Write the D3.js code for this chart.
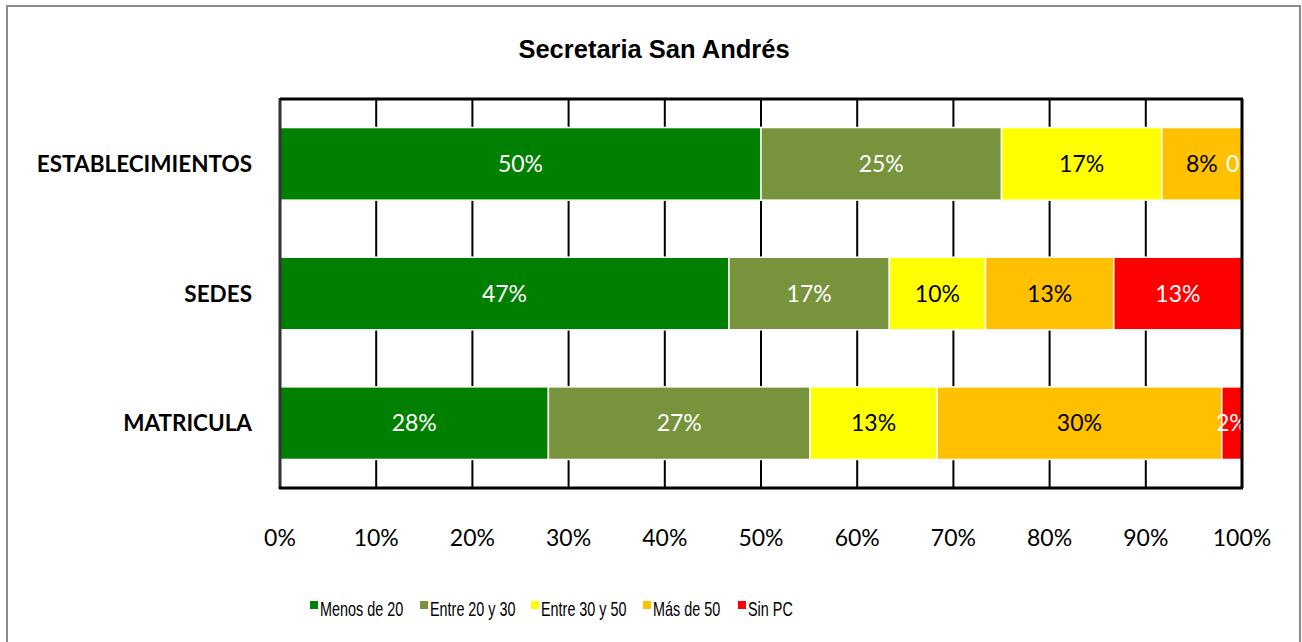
<!DOCTYPE html>
<html>
<head>
<meta charset="utf-8">
<script src="https://cdn.jsdelivr.net/npm/d3@7"></script>
<style>
  body { margin: 0; background: #fff; }
  svg { display: block; }
</style>
</head>
<body>
<svg id="chart" width="1302" height="642"></svg>
<script>
// data
const categories = ["ESTABLECIMIENTOS", "SEDES", "MATRICULA"];
const seriesNames = ["Menos de 20", "Entre 20 y 30", "Entre 30 y 50", "Más de 50", "Sin PC"];
const seriesColors = ["#008000", "#77933C", "#FFFF00", "#FFC000", "#FF0000"];
const labelColors = ["#fff", "#fff", "#000", "#000", "#fff"];
const menos20 = [50.0, 46.67, 27.9];
const entre20y30 = [25.0, 16.67, 27.2];
const entre30y50 = [16.67, 10.0, 13.2];
const masDe50 = [8.33, 13.33, 29.6];
const sinPC = [0.0, 13.33, 2.1];
const xTicks = [0, 10, 20, 30, 40, 50, 60, 70, 80, 90, 100];

const svg = d3.select("#chart");
const plot = { left: 280, top: 99, right: 1242, bottom: 488 };

// outer chart frame
svg.append("rect")
    .attr("x", 7).attr("y", 6)
    .attr("width", 1293).attr("height", 650)
    .attr("fill", "#fff")
    .attr("stroke", "#8c8c8c")
    .attr("stroke-width", 2);

svg.append("text")
    .attr("x", 654).attr("y", 58)
    .attr("text-anchor", "middle")
    .style("font-family", "'Liberation Sans', Arial, sans-serif")
    .style("font-weight", "bold")
    .style("font-size", "25.5px")
    .text("Secretaria San Andrés");

const x = d3.scaleLinear().domain([0, 100]).range([plot.left, plot.right]);
const y = d3.scaleBand().domain(categories).range([plot.top, plot.bottom]).paddingInner(0.44).paddingOuter(0.22);

const table = categories.map((c, i) => ({
    cat: c,
    "Menos de 20": menos20[i],
    "Entre 20 y 30": entre20y30[i],
    "Entre 30 y 50": entre30y50[i],
    "Más de 50": masDe50[i],
    "Sin PC": sinPC[i]
}));
const stack = d3.stack().keys(seriesNames)(table);

// gridlines
svg.append("g")
    .selectAll("line")
    .data(xTicks.slice(1, -1))
    .join("line")
    .attr("x1", d => x(d)).attr("x2", d => x(d))
    .attr("y1", plot.top).attr("y2", plot.bottom)
    .attr("stroke", "#000")
    .attr("stroke-width", 2);

svg.append("clipPath").attr("id", "plotclip")
    .append("rect")
    .attr("x", plot.left).attr("y", plot.top)
    .attr("width", plot.right - plot.left).attr("height", plot.bottom - plot.top);

const layers = svg.append("g").attr("clip-path", "url(#plotclip)")
    .selectAll("g")
    .data(stack)
    .join("g");

layers.selectAll("rect")
    .data(d => d)
    .join("rect")
    .attr("x", d => x(d[0]))
    .attr("y", d => y(d.data.cat))
    .attr("width", d => x(d[1]) - x(d[0]))
    .attr("height", y.bandwidth())
    .attr("fill", function() { return seriesColors[seriesNames.indexOf(d3.select(this.parentNode).datum().key)]; })
    .attr("stroke", "#fff")
    .attr("stroke-width", 1.5);

layers.selectAll("text")
    .data(d => d.map(p => ({ p, key: d.key })))
    .join("text")
    .attr("x", d => x((d.p[0] + d.p[1]) / 2))
    .attr("y", d => y(d.p.data.cat) + y.bandwidth() / 2)
    .attr("dy", "0.36em")
    .attr("text-anchor", "middle")
    .style("font-family", "Lato, 'Open Sans', sans-serif")
    .style("font-size", "23px")
    .attr("fill", d => labelColors[seriesNames.indexOf(d.key)])
    .text(d => Math.round(d.p[1] - d.p[0]) + "%");

// plot frame
const frame = svg.append("g").attr("fill", "none");
frame.append("line").attr("x1", plot.left).attr("x2", plot.left).attr("y1", plot.top - 1).attr("y2", plot.bottom + 1)
    .attr("stroke", "#333").attr("stroke-width", 3);
frame.append("line").attr("x1", plot.left).attr("x2", plot.right + 1).attr("y1", plot.top).attr("y2", plot.top)
    .attr("stroke", "#000").attr("stroke-width", 3);
frame.append("line").attr("x1", plot.right).attr("x2", plot.right).attr("y1", plot.top).attr("y2", plot.bottom)
    .attr("stroke", "#000").attr("stroke-width", 3);
frame.append("line").attr("x1", plot.left - 1).attr("x2", plot.right + 1).attr("y1", plot.bottom).attr("y2", plot.bottom)
    .attr("stroke", "#000").attr("stroke-width", 3);

// category labels
svg.append("g")
    .selectAll("text")
    .data(categories)
    .join("text")
    .attr("x", 252)
    .attr("y", d => y(d) + y.bandwidth() / 2)
    .attr("dy", "0.36em")
    .attr("text-anchor", "end")
    .style("font-family", "Lato, 'Open Sans', sans-serif")
    .style("font-weight", "bold")
    .style("font-size", "22.5px")
    .text(d => d);

// x tick labels
svg.append("g")
    .selectAll("text")
    .data(xTicks)
    .join("text")
    .attr("x", d => x(d))
    .attr("y", 538)
    .attr("dy", "0.36em")
    .attr("text-anchor", "middle")
    .style("font-family", "Lato, 'Open Sans', sans-serif")
    .style("font-size", "23px")
    .text(d => d + "%");

// legend (narrow font faked with a horizontal squeeze)
const legendX = [310, 420, 531, 643, 738];
const legend = svg.append("g")
    .selectAll("g")
    .data(seriesNames)
    .join("g")
    .attr("transform", (d, i) => `translate(${legendX[i]},601)`);
legend.append("rect")
    .attr("width", 8).attr("height", 8)
    .attr("fill", (d, i) => seriesColors[i]);
legend.append("text")
    .attr("transform", "translate(10,14.5) scale(0.72,1)")
    .style("font-family", "'Liberation Sans', Arial, sans-serif")
    .style("font-size", "20px")
    .text(d => d);
</script>
</body>
</html>
